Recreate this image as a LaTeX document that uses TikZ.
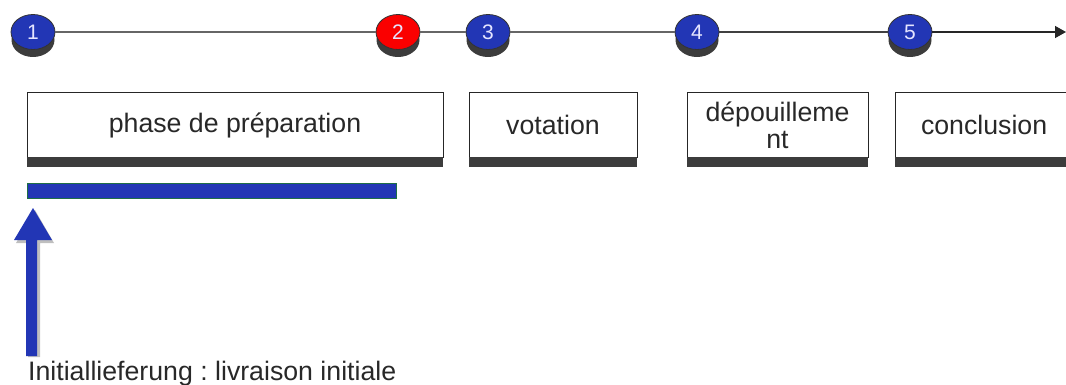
\documentclass[tikz,border=0pt]{standalone}
\usepackage{fontspec}
\setmainfont{Liberation Sans}
\usetikzlibrary{shapes.geometric,arrows.meta}
\frenchspacing
\definecolor{dotblue}{RGB}{34,54,181}
\definecolor{dotred}{RGB}{250,0,0}
\definecolor{shadowc}{RGB}{60,60,60}
\definecolor{txt}{RGB}{40,40,40}
\definecolor{barblue}{RGB}{34,54,181}
\definecolor{bargreen}{RGB}{30,110,70}
\begin{document}
\begin{tikzpicture}[x=1pt,y=-1pt,
  dot/.style={ellipse, draw=black!80, line width=0.8pt, minimum width=44pt, minimum height=35pt, inner sep=0pt,
     text=white!90!blue, font=\fontsize{21}{21}\selectfont},
  phasebox/.style={draw=black!85, line width=0.9pt, fill=white, minimum height=65pt, inner sep=0pt,
     text=txt, font=\fontsize{26.7}{28}\selectfont, align=center},
  lbl/.style={text=txt, font=\fontsize{26.7}{28}\selectfont, inner sep=0pt, anchor=base west}
]
\useasboundingbox (0,0) rectangle (1066,385);
% timeline
\coordinate (tend) at (1066,32);
% shadows of dots
\foreach \x in {33,398,488,697,910}{
  \fill[shadowc] (\x,40) ellipse (21.5pt and 17pt);
}
\node[dot, fill=dotblue] (n1) at (33,32) {1};
\node[dot, fill=dotred] (n2) at (398,32) {2};
\node[dot, fill=dotblue] (n3) at (488,32) {3};
\node[dot, fill=dotblue] (n4) at (697,32) {4};
\node[dot, fill=dotblue] (n5) at (910,32) {5};
\draw[black!60, line width=1.3pt] (n1.east) -- (n2.west);
\draw[black!60, line width=1.3pt] (n2.east) -- (n3.west);
\draw[black!60, line width=1.3pt] (n3.east) -- (n4.west);
\draw[black!75, line width=1.3pt] (n4.east) -- (n5.west);
\draw[black!85, line width=1.3pt, -{Triangle[length=11pt,width=12pt]}] (n5.east) -- (tend);
% boxes
\node[phasebox, minimum width=416pt] (b1) at (235,125) {\raisebox{-3pt}{phase de préparation}};
\node[phasebox, minimum width=168pt] (b2) at (553,125) {\raisebox{-3pt}{votation}};
\node[phasebox, minimum width=181pt] (b3) at (777.5,125) {dépouilleme\\[-1pt]nt};
\node[phasebox, minimum width=180pt, text width=150pt, align=left] (b4) at (985,125) {\hspace*{11pt}\raisebox{-3pt}{conclusion}};
\foreach \b in {b1,b2,b3,b4}{
  \fill[shadowc] ([yshift=0.5pt]\b.south west) rectangle ([yshift=-9.5pt]\b.south east);
}
% blue bar
\node[draw=bargreen, line width=0.8pt, fill=barblue, minimum width=369pt, minimum height=15pt, inner sep=0pt] (bar) at (211.5,190.5) {};
% label
\node[lbl] (lab) at (28,380) {Initiallieferung : livraison initiale};
% arrow shape
\fill[black!25] (28,357) -- (28,243) -- (16,243) -- (35,210) -- (54,243) -- (40,243) -- (40,357) -- cycle;
\fill[dotblue] (26,356) -- (26,240) -- (14,240) -- (33,208) -- (52,240) -- (37,240) -- (37,356) -- cycle;
\end{tikzpicture}
\end{document}
